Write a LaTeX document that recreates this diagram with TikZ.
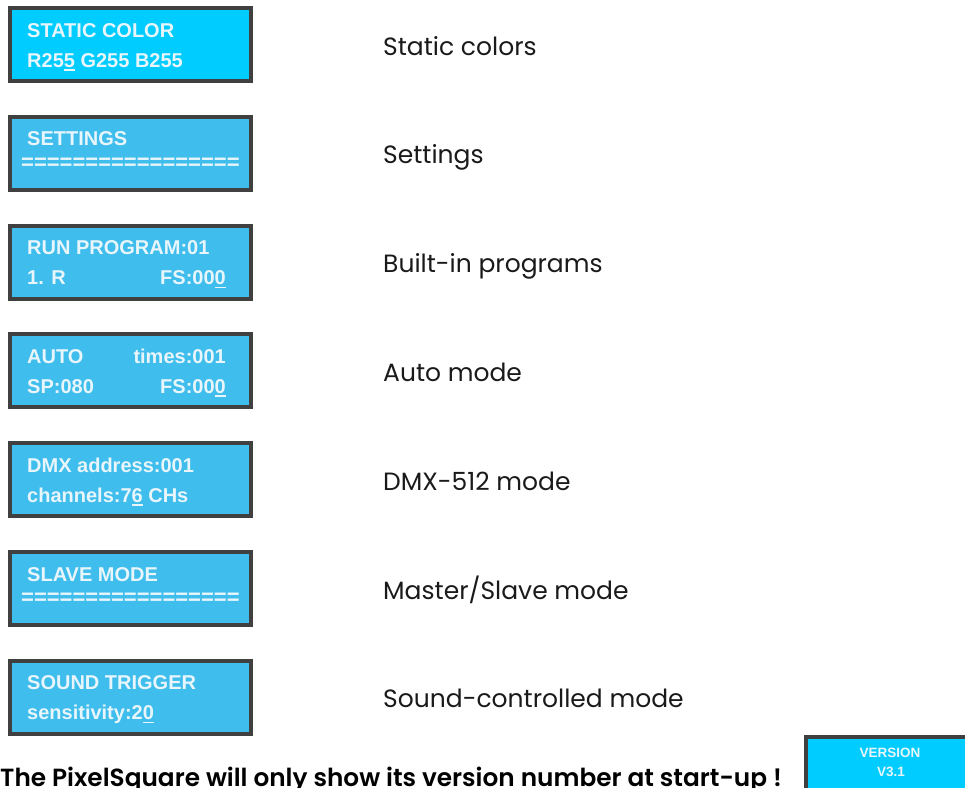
\documentclass[tikz,border=0pt]{standalone}
\usepackage{fontspec}
\setmainfont{Liberation Sans}
\newfontfamily\lcdfont{Liberation Sans}[BoldFont={* Bold}]
\newfontfamily\labfont{Poppins}
\newfontfamily\labboldfont{Poppins SemiBold}
\definecolor{lcdcyan}{HTML}{00CCFF}
\definecolor{lcdblue}{HTML}{3FBDEC}
\definecolor{lcdtext}{HTML}{E8F6FC}
\definecolor{lcdframe}{HTML}{404040}
\definecolor{labtext}{HTML}{1A1A1A}
\newcommand\lcdul[1]{\setbox0\hbox{#1}\rlap{\rule[-3.6pt]{\wd0}{1.6pt}}#1}
\tikzset{
  lcdbox/.style={draw=lcdframe, line width=4pt, fill=lcdblue},
  lcdtxt/.style={inner sep=0pt, text=lcdtext, font=\lcdfont\bfseries\fontsize{20}{22}\selectfont},
  lcdeq/.style={inner sep=0pt, text=lcdtext, font=\lcdfont\bfseries\fontsize{22}{24}\selectfont},
  labtxt/.style={inner sep=0pt, anchor=base west, text=labtext, font=\labfont\fontsize{25}{28}\selectfont},
}
\begin{document}
\begin{tikzpicture}[x=1pt,y=-1pt]
\useasboundingbox (0,0) rectangle (965,787);
% boxes
\foreach \i/\c in {1/lcdcyan,2/lcdblue,3/lcdblue,4/lcdblue,5/lcdblue,6/lcdblue,7/lcdblue}{
  \pgfmathsetmacro\t{6+108.8*(\i-1)}
  \draw[lcdbox, fill=\c] (10,\t+2) rectangle (251,\t+75);
}
% box 1
\node[lcdtxt, anchor=base west] (b1a) at (27,37) {STATIC COLOR};
\node[lcdtxt, anchor=base west] (b1b) at (27,67) {R25\lcdul{5} G255 B255};
% box 2
\node[lcdtxt, anchor=base west] (b2a) at (27,145.8) {SETTINGS};
\node[lcdeq, anchor=west] (b2b) at (21,163.8) {=================};
% box 3
\node[lcdtxt, anchor=base west] (b3a) at (27,254.6) {RUN PROGRAM:01};
\node[lcdtxt, anchor=base west] (b3b) at (27,284.6) {1. R};
\node[lcdtxt, anchor=base east] (b3c) at (226,284.6) {FS:00\lcdul{0}};
% box 4
\node[lcdtxt, anchor=base west] (b4a) at (27,363.4) {AUTO};
\node[lcdtxt, anchor=base east] (b4b) at (226,363.4) {times:001};
\node[lcdtxt, anchor=base west] (b4c) at (27,393.4) {SP:080};
\node[lcdtxt, anchor=base east] (b4d) at (226,393.4) {FS:00\lcdul{0}};
% box 5
\node[lcdtxt, anchor=base west] (b5a) at (27,472.2) {DMX address:001};
\node[lcdtxt, anchor=base west] (b5b) at (27,502.2) {channels:7\lcdul{6} CHs};
% box 6
\node[lcdtxt, anchor=base west] (b6a) at (27,581) {SLAVE MODE};
\node[lcdeq, anchor=west] (b6b) at (21,599) {=================};
% box 7
\node[lcdtxt, anchor=base west] (b7a) at (27,689.8) {SOUND TRIGGER};
\node[lcdtxt, anchor=base west] (b7b) at (27,719.8) {sensitivity:2\lcdul{0}};
% labels
\node[labtxt] (l1) at (383,55) {Static colors};
\node[labtxt] (l2) at (383,163.8) {Settings};
\node[labtxt] (l3) at (383,272.6) {Built-in programs};
\node[labtxt] (l4) at (383,381.4) {Auto mode};
\node[labtxt] (l5) at (383,490.2) {DMX-512 mode};
\node[labtxt] (l6) at (383,599) {Master/Slave mode};
\node[labtxt] (l7) at (383,707.8) {Sound-controlled mode};
% bottom note
\node[inner sep=0pt, anchor=base west, text=black, font=\labboldfont\fontsize{24.8}{27}\selectfont] (note) at (0,786) {The PixelSquare will only show its version number at start-up !};
% version box
\draw[draw=lcdframe, line width=4pt, fill=lcdcyan] (806,737) rectangle (975,800);
\node[inner sep=0pt, anchor=base, text=lcdtext, font=\lcdfont\bfseries\fontsize{13.5}{15}\selectfont] (v1) at (890,757) {VERSION};
\node[inner sep=0pt, anchor=base, text=lcdtext, font=\lcdfont\bfseries\fontsize{13.5}{15}\selectfont] (v2) at (891,776) {V3.1};
\end{tikzpicture}
\end{document}
